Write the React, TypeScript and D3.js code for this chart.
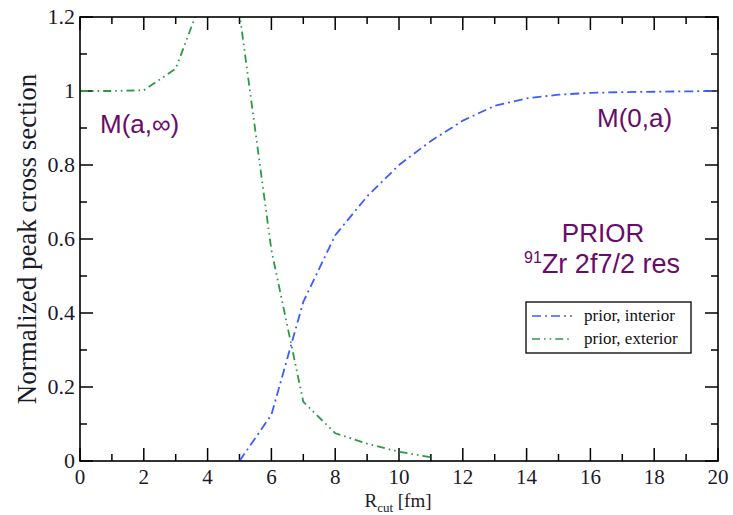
import React from "react";
import * as d3 from "d3";

const xTicksMajor = [0, 2, 4, 6, 8, 10, 12, 14, 16, 18, 20];
const yTicksMajor = [0, 0.2, 0.4, 0.6, 0.8, 1, 1.2];
const yTickLabels = ["0", "0.2", "0.4", "0.6", "0.8", "1", "1.2"];

const interiorX = [5, 6, 7, 8, 9, 10, 11, 12, 13, 14, 15, 16, 17, 18, 19, 20];
const interiorY = [0, 0.125, 0.43, 0.61, 0.715, 0.8, 0.865, 0.92, 0.96, 0.98, 0.99, 0.995, 0.997, 0.998, 0.999, 1.0];

const exteriorX = [0, 1, 2, 3, 4, 5, 6, 7, 8, 9, 10, 11];
const exteriorY = [1.0, 1.0, 1.002, 1.06, 1.29, 1.21, 0.57, 0.16, 0.075, 0.047, 0.025, 0.01];

const seriesNames = ["prior, interior", "prior, exterior"];

const W = 733;
const H = 515;
const M = { left: 80, right: 718, top: 17, bottom: 461 };

export default function App() {
  const x = d3.scaleLinear().domain([0, 20]).range([M.left, M.right]);
  const y = d3.scaleLinear().domain([0, 1.2]).range([M.bottom, M.top]);
  const line = d3
    .line<[number, number]>()
    .x((d) => x(d[0]))
    .y((d) => y(d[1]));

  const interior = interiorX.map((v, i) => [v, interiorY[i]] as [number, number]);
  const exterior = exteriorX.map((v, i) => [v, exteriorY[i]] as [number, number]);

  const blue = "#3d5cff";
  const green = "#2a9a48";
  const blueDash = "9,4,2,4";
  const greenDash = "8,4,1.6,4,1.6,4";
  const purple = "#6a0a6a";

  const xMinor = d3.range(1, 20, 2);
  const yMinor = d3.range(0.1, 1.2, 0.2);
  const majL = 13;
  const minL = 7;

  return (
    <svg width={W} height={H} style={{ position: "absolute", left: 0, top: 0 }}>
      <defs>
        <clipPath id="plotclip">
          <rect x={M.left} y={M.top} width={M.right - M.left} height={M.bottom - M.top} />
        </clipPath>
      </defs>
      <rect x={0} y={0} width={W} height={H} fill="#fff" />

      {/* ticks */}
      <g stroke="#000" strokeWidth={1.5}>
        {xTicksMajor.map((t) => (
          <g key={"xm" + t}>
            <line x1={x(t)} x2={x(t)} y1={M.bottom} y2={M.bottom - majL} />
            <line x1={x(t)} x2={x(t)} y1={M.top} y2={M.top + majL} />
          </g>
        ))}
        {xMinor.map((t) => (
          <g key={"xn" + t}>
            <line x1={x(t)} x2={x(t)} y1={M.bottom} y2={M.bottom - minL} />
            <line x1={x(t)} x2={x(t)} y1={M.top} y2={M.top + minL} />
          </g>
        ))}
        {yTicksMajor.map((t) => (
          <g key={"ym" + t}>
            <line x1={M.left} x2={M.left + majL} y1={y(t)} y2={y(t)} />
            <line x1={M.right} x2={M.right - majL} y1={y(t)} y2={y(t)} />
          </g>
        ))}
        {yMinor.map((t) => (
          <g key={"yn" + t}>
            <line x1={M.left} x2={M.left + minL} y1={y(t)} y2={y(t)} />
            <line x1={M.right} x2={M.right - minL} y1={y(t)} y2={y(t)} />
          </g>
        ))}
      </g>

      {/* curves */}
      <g clipPath="url(#plotclip)" fill="none" strokeWidth={1.8}>
        <path d={line(interior) || ""} stroke={blue} strokeDasharray={blueDash} />
        <path d={line(exterior) || ""} stroke={green} strokeDasharray={greenDash} />
      </g>

      {/* frame */}
      <rect
        x={M.left}
        y={M.top}
        width={M.right - M.left}
        height={M.bottom - M.top}
        fill="none"
        stroke="#000"
        strokeWidth={1.6}
      />

      {/* tick labels */}
      <g fontFamily="'Liberation Serif', 'DejaVu Serif', serif" fontSize={21} fill="#1a1a2a">
        {xTicksMajor.map((t) => (
          <text key={"xl" + t} x={x(t)} y={484} textAnchor="middle">
            {t}
          </text>
        ))}
      </g>
      <g fontFamily="'Liberation Serif', 'DejaVu Serif', serif" fontSize={22} fill="#1a1a2a">
        {yTicksMajor.map((t, i) => (
          <text key={"yl" + t} x={M.left - 5} y={y(t) + 7} textAnchor="end">
            {yTickLabels[i]}
          </text>
        ))}
      </g>

      {/* axis titles */}
      <text
        x={398}
        y={507}
        textAnchor="middle"
        fontFamily="'Liberation Serif', serif"
        fontSize={19}
        fill="#1a1a2a"
      >
        R<tspan fontSize={13} dy={5}>cut</tspan>
        <tspan dy={-5}> [fm]</tspan>
      </text>
      <text
        transform={`translate(36, ${(M.top + M.bottom) / 2}) rotate(-90)`}
        textAnchor="middle"
        fontFamily="'Liberation Serif', serif"
        fontSize={27}
        fill="#1a1a2a"
      >
        Normalized peak cross section
      </text>

      {/* annotations */}
      <g fontFamily="'Liberation Sans', Arial, sans-serif" fontSize={26} fill={purple}>
        <text x={100} y={133}>M(a,∞)</text>
        <text x={597} y={127}>M(0,a)</text>
        <text x={603} y={242} textAnchor="middle">PRIOR</text>
        <text x={602} y={273} textAnchor="middle" fontSize={27}>
          <tspan fontSize={16} dy={-10}>91</tspan>
          <tspan dy={10}>Zr 2f7/2 res</tspan>
        </text>
      </g>

      {/* legend */}
      <g>
        <rect x={526} y={302} width={165} height={51} fill="#fff" stroke="#000" strokeWidth={1.3} />
        <line x1={532} x2={572} y1={316} y2={316} stroke={blue} strokeWidth={1.6} strokeDasharray={blueDash} />
        <line x1={532} x2={572} y1={339} y2={339} stroke={green} strokeWidth={1.6} strokeDasharray={greenDash} />
        <g fontFamily="'Liberation Serif', serif" fontSize={17} fill="#111">
          <text x={584} y={321}>{seriesNames[0]}</text>
          <text x={584} y={344}>{seriesNames[1]}</text>
        </g>
      </g>
    </svg>
  );
}
